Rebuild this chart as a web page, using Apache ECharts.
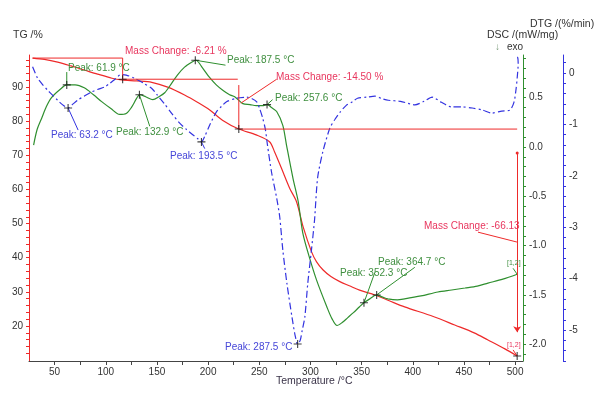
<!DOCTYPE html>
<html><head><meta charset="utf-8">
<script src="https://cdn.jsdelivr.net/npm/echarts@6/dist/echarts.min.js"></script>
<style>html,body{margin:0;padding:0;background:#fff}#c{width:600px;height:394px}</style>
</head><body><div id="c"></div>
<script>
// ---- data (temperature °C, value) ----
const tgPoints = [[28.5,98.5],[40,98.1],[53,97.3],[66,96.2],[79,95],[92,93.8],[106,92.6],[115.5,92.1],[130,91.8],[145,91.4],[160.5,90],[177,87.7],[190,85.5],[201.6,83.3],[214,80.3],[230,77.7],[247,76],[260,74],[265,71],[271.7,66.2],[279.8,60.3],[286.4,56.4],[292.8,49.1],[301,41.8],[306,38.8],[312.4,36.4],[320,34.5],[328.7,33],[338,31.8],[348,30.5],[363,29.1],[377,27.4],[392,25.6],[420,22.8],[441,20.3],[460,18],[473.5,15.9],[490,13.3],[502,11.2]];
const dscPoints = [[29.5,0.02],[33,0.18],[37.3,0.29],[42,0.41],[47,0.50],[55,0.58],[62,0.63],[70,0.63],[79,0.60],[88,0.53],[96,0.46],[105,0.39],[113.6,0.33],[120,0.34],[125,0.40],[130,0.49],[133,0.53],[139,0.51],[146,0.48],[152,0.51],[157.6,0.55],[164,0.64],[170,0.73],[177,0.81],[184,0.86],[188,0.88],[194.7,0.80],[201,0.71],[208,0.63],[215,0.57],[221,0.53],[226,0.51],[234,0.44],[241,0.43],[247,0.42],[253,0.42],[258,0.43],[262,0.40],[267,0.36],[273,0.22],[276.6,0.02],[283,-0.32],[288,-0.55],[292.5,-0.87],[299,-1.12],[306,-1.35],[316,-1.62],[321,-1.74],[326,-1.81],[331,-1.78],[336.5,-1.73],[342,-1.68],[348,-1.62],[352.3,-1.58],[358,-1.54],[364.7,-1.50],[370,-1.52],[375.7,-1.54],[385,-1.55],[392,-1.54],[408,-1.51],[424.6,-1.47],[438,-1.45],[451,-1.43],[463,-1.41],[473.5,-1.38],[488,-1.34],[502,-1.29]];
const dtgPoints = [[28.5,0.12],[33.4,-0.10],[38,-0.22],[43,-0.33],[48,-0.43],[53,-0.53],[58,-0.62],[63,-0.68],[67,-0.62],[72.5,-0.53],[79,-0.45],[86,-0.37],[92,-0.32],[99,-0.27],[104,-0.2],[109,-0.12],[115,-0.03],[120,-0.04],[128,-0.1],[137,-0.2],[145,-0.3],[150,-0.42],[157,-0.59],[165,-0.8],[172,-0.97],[179,-1.1],[185,-1.2],[190,-1.28],[193.5,-1.34],[197,-1.22],[201.6,-1.01],[208,-0.76],[213,-0.65],[218,-0.56],[228,-0.49],[238,-0.47],[243,-0.5],[247.5,-0.56],[250.5,-0.7],[253.4,-0.88],[256,-1.1],[258,-1.4],[262,-1.93],[267,-2.43],[270,-2.8],[273,-3.44],[277,-4.09],[282,-4.75],[285,-5.1],[287.5,-5.27],[290,-5.2],[292,-5.0],[294.5,-4.75],[297.4,-4.09],[301,-3.44],[304,-2.86],[307,-2.04],[312,-1.54],[319,-1.07],[324,-0.9],[329,-0.76],[335,-0.63],[341,-0.56],[346,-0.49],[355,-0.47],[363,-0.45],[370,-0.5],[376,-0.53],[388,-0.55],[402,-0.62],[411,-0.55],[419,-0.47],[428,-0.57],[438,-0.66],[448,-0.66],[458,-0.68],[468,-0.72],[477,-0.78],[487,-0.74],[495,-0.72],[499,-0.56],[501,-0.3],[502,-0.10],[503,0.19],[502.5,0.3],[500,0.35]];

// tick labels
const tempTicks = [50,100,150,200,250,300,350,400,450,500];
const tgTicks = [20,30,40,50,60,70,80,90];
const dscTicks = [-2,-1.5,-1,-0.5,0,0.5];
const dtgTicks = [-5,-4,-3,-2,-1,0];

// annotations (data coordinates)
const tgSegments = [[[28.5,98.5],[116.5,98.5]],[[116.5,98.5],[116.5,92.3]],[[116.5,92.3],[229,92.3]],[[230,90.6],[230,77.7]],[[230,77.7],[502,77.7]],[[232,85.3],[267,92.3]],[[463.7,47.5],[501.8,44.6]],[[498,13],[502,11.2]]];
const tgArrow = [[502,70.7],[502,18.2]];
const tgCrosses = [[116.5,92.3],[230,77.7],[502,11.2]];
const dscSegments = [[[61.9,0.63],[61.9,0.76]],[[132.9,0.53],[143,0.21]],[[187.5,0.88],[217,0.83]],[[257.6,0.43],[263,0.48]],[[352.3,-1.58],[363,-1.27]],[[364.7,-1.50],[402,-1.22]],[[498,-1.23],[502,-1.29]]];
const dscCrosses = [[61.9,0.63],[132.9,0.53],[187.5,0.88],[257.6,0.43],[352.3,-1.58],[364.7,-1.50]];
const dtgSegments = [[[63.2,-0.68],[73,-1.11]],[[193.5,-1.34],[196.7,-1.47]]];
const dtgCrosses = [[63.2,-0.68],[193.5,-1.34],[287.5,-5.27]];

const RED='#ee2a2a', GREEN='#2f8f2f', BLUE='#3333e0', PINK='#e8365e', GTXT='#3f8f3f', BTXT='#4646d8';
const FF='"Liberation Sans", Arial, sans-serif';

function steps(a,b,s){const r=[];for(let i=0;a+i*s<=b+1e-9;i++)r.push(Math.round((a+i*s)*1000)/1000);return r;}

const chart = echarts.init(document.getElementById('c'), null, {renderer:'canvas'});
const cross = 'path://M0,4L8,4M4,0L4,8';

function segSeries(segs, yi, color){
  return segs.map(s=>({type:'line', yAxisIndex:yi, data:s, symbol:'none', silent:true, z:4,
    lineStyle:{color:color, width:1}, animation:false, clip:false}));
}
function crossSeries(pts, yi){
  return {type:'scatter', yAxisIndex:yi, data:pts, symbol:cross, symbolSize:8, z:6, silent:true,
    itemStyle:{color:'rgba(0,0,0,0)', borderColor:'#111', borderWidth:1.1}, animation:false, clip:false};
}

const texts = [
  ['Mass Change: -6.21 %',125,51,PINK,10],
  ['Mass Change: -14.50 %',276,77,PINK,10],
  ['Mass Change: -66.13',424,226,PINK,10],
  ['Peak: 61.9 °C',68,68,GTXT,10],
  ['Peak: 63.2 °C',51,135,BTXT,10],
  ['Peak: 132.9 °C',116,132,GTXT,10],
  ['Peak: 187.5 °C',227,60,GTXT,10],
  ['Peak: 193.5 °C',170,156,BTXT,10],
  ['Peak: 257.6 °C',275,98,GTXT,10],
  ['Peak: 287.5 °C',225,347,BTXT,10],
  ['Peak: 352.3 °C',340,273,GTXT,10],
  ['Peak: 364.7 °C',378,262,GTXT,10],
  ['[1,2]',507,263,GTXT,7],
  ['[1,2]',507,345,PINK,7],
  ['TG /%',13,35,'#333',10.5],
  ['Temperature /°C',276,381,'#3a3348',10.5],
  ['DTG /(%/min)',530,24,'#333',10.5],
  ['DSC /(mW/mg)',487,35,'#333',10.5],
  ['↓',495,47,'#7a9a7a',10],
  ['exo',507,47,'#333',10]
];

const option = {
  animation:false,
  grid:{left:29, right:77, top:55, bottom:33, containLabel:false},
  xAxis:{type:'value', min:25, max:507.7,
    axisLine:{show:true, onZero:false, lineStyle:{color:'#444', width:1}},
    axisTick:{show:true, customValues:steps(50,500,25), length:4, lineStyle:{color:'#444'}},
    axisLabel:{customValues:tempTicks, color:'#333', fontSize:10, fontFamily:FF, margin:6},
    splitLine:{show:false}},
  yAxis:[
    {type:'value', position:'left', min:9.75, max:99.4,
      axisLine:{show:true, onZero:false, lineStyle:{color:RED, width:1}},
      axisTick:{show:true, customValues:steps(12,98,2), length:3, lineStyle:{color:RED}},
      axisLabel:{customValues:tgTicks, color:'#333', fontSize:10, fontFamily:FF, margin:6},
      splitLine:{show:false}},
    {type:'value', position:'right', offset:0, min:-2.17, max:0.933,
      axisLine:{show:true, onZero:false, lineStyle:{color:GREEN, width:1}},
      axisTick:{show:true, customValues:steps(-2.1,0.9,0.1), length:3, lineStyle:{color:GREEN}},
      axisLabel:{customValues:dscTicks, color:'#333', fontSize:10, fontFamily:FF, margin:6, formatter:v=>Number(v).toFixed(1)},
      splitLine:{show:false}},
    {type:'value', position:'right', offset:40, min:-5.6, max:0.35,
      axisLine:{show:true, onZero:false, lineStyle:{color:BLUE, width:1}},
      axisTick:{show:true, customValues:steps(-5.6,0.2,0.2), length:3, lineStyle:{color:BLUE}},
      axisLabel:{customValues:dtgTicks, color:'#333', fontSize:10, fontFamily:FF, margin:6},
      splitLine:{show:false}}
  ],
  series:[
    {type:'line', name:'TG', yAxisIndex:0, data:tgPoints, symbol:'none', smooth:0.3, z:3,
      lineStyle:{color:RED, width:1.2},
      markLine:{silent:true, animation:false, label:{show:false}, lineStyle:{color:RED, width:1, type:'solid'},
        data:[[{coord:tgArrow[0], symbol:'circle', symbolSize:3},{coord:tgArrow[1], symbol:'arrow', symbolSize:6}]]}},
    {type:'line', name:'DSC', yAxisIndex:1, data:dscPoints, symbol:'none', smooth:0.3, z:3,
      lineStyle:{color:GREEN, width:1.2}},
    {type:'line', name:'DTG', yAxisIndex:2, data:dtgPoints, symbol:'none', smooth:0.25, z:3, clip:false,
      lineStyle:{color:BLUE, width:1.2, type:[7,3,2,3]}},
    ...segSeries(tgSegments,0,RED),
    ...segSeries(dscSegments,1,GREEN),
    ...segSeries(dtgSegments,2,BLUE),
    crossSeries(tgCrosses,0), crossSeries(dscCrosses,1), crossSeries(dtgCrosses,2)
  ],
  graphic: texts.map(t=>({type:'text', x:t[1], y:t[2], z:10, silent:true,
    style:{text:t[0], fill:t[3], fontSize:t[4], fontFamily:FF, verticalAlign:'middle', align:'left'}}))
};
chart.setOption(option);
</script></body></html>
